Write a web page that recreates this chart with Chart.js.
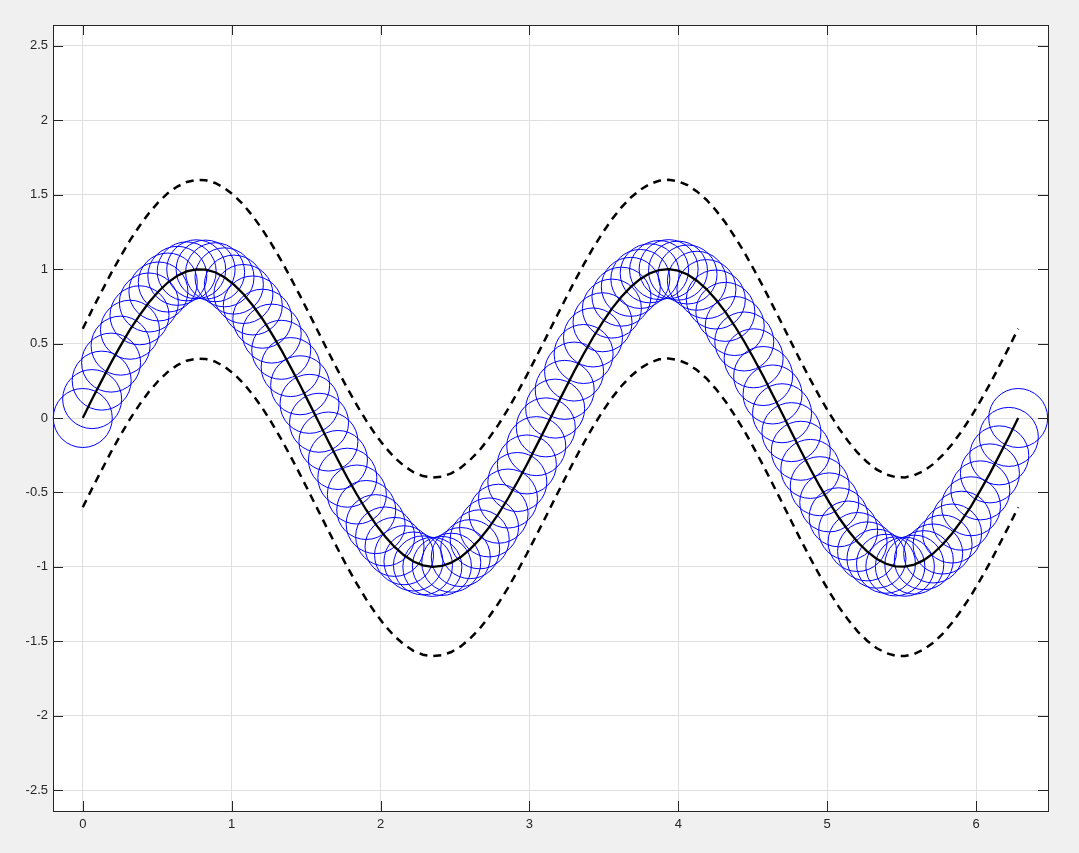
<!DOCTYPE html>
<html>
<head>
<meta charset="utf-8">
<title>sin(2x) with markers</title>
<script src="https://cdn.jsdelivr.net/npm/chart.js@4/dist/chart.umd.min.js"></script>
<style>
    html, body { margin: 0; padding: 0; background: #f0f0f0; }
    #plot { display: block; }
</style>
</head>
<body>
<canvas id="plot" width="1079" height="853"></canvas>
<script>
// x samples (0 .. 2*pi)
const xs = [0, 0.063, 0.127, 0.190, 0.254, 0.317, 0.381, 0.444, 0.508, 0.571, 0.635, 0.698, 0.762, 0.825, 0.889, 0.952, 1.015, 1.079, 1.142, 1.206,
    1.269, 1.333, 1.396, 1.460, 1.523, 1.587, 1.650, 1.714, 1.777, 1.841, 1.904, 1.967, 2.031, 2.094, 2.158, 2.221, 2.285, 2.348, 2.412, 2.475,
    2.539, 2.602, 2.666, 2.729, 2.793, 2.856, 2.919, 2.983, 3.046, 3.110, 3.173, 3.237, 3.300, 3.364, 3.427, 3.491, 3.554, 3.618, 3.681, 3.745,
    3.808, 3.871, 3.935, 3.998, 4.062, 4.125, 4.189, 4.252, 4.316, 4.379, 4.443, 4.506, 4.570, 4.633, 4.697, 4.760, 4.823, 4.887, 4.950, 5.014,
    5.077, 5.141, 5.204, 5.268, 5.331, 5.395, 5.458, 5.522, 5.585, 5.649, 5.712, 5.775, 5.839, 5.902, 5.966, 6.029, 6.093, 6.156, 6.220, 6.283];

// middle curve (solid line + circle markers)
const mid = [0, 0.127, 0.251, 0.372, 0.486, 0.593, 0.690, 0.776, 0.850, 0.910, 0.955, 0.985, 0.999, 0.997, 0.979, 0.945, 0.896, 0.833, 0.756, 0.667,
    0.567, 0.458, 0.342, 0.220, 0.095, -0.032, -0.158, -0.282, -0.401, -0.514, -0.618, -0.713, -0.796, -0.866, -0.922, -0.964, -0.990, -1.000, -0.994, -0.972,
    -0.934, -0.881, -0.815, -0.735, -0.643, -0.541, -0.430, -0.312, -0.189, -0.063, 0.063, 0.189, 0.312, 0.430, 0.541, 0.643, 0.735, 0.815, 0.881, 0.934,
    0.972, 0.994, 1.000, 0.990, 0.964, 0.922, 0.866, 0.796, 0.713, 0.618, 0.514, 0.401, 0.282, 0.158, 0.032, -0.095, -0.220, -0.342, -0.458, -0.567,
    -0.667, -0.756, -0.833, -0.896, -0.945, -0.979, -0.997, -0.999, -0.985, -0.955, -0.910, -0.850, -0.776, -0.690, -0.593, -0.486, -0.372, -0.251, -0.127, 0];

// upper dashed curve
const upper = [0.600, 0.727, 0.851, 0.972, 1.086, 1.193, 1.290, 1.376, 1.450, 1.510, 1.555, 1.585, 1.599, 1.597, 1.579, 1.545, 1.496, 1.433, 1.356, 1.267,
    1.167, 1.058, 0.942, 0.820, 0.695, 0.568, 0.442, 0.318, 0.199, 0.086, -0.018, -0.113, -0.196, -0.266, -0.322, -0.364, -0.390, -0.400, -0.394, -0.372,
    -0.334, -0.281, -0.215, -0.135, -0.043, 0.059, 0.170, 0.288, 0.411, 0.537, 0.663, 0.789, 0.912, 1.030, 1.141, 1.243, 1.335, 1.415, 1.481, 1.534,
    1.572, 1.594, 1.600, 1.590, 1.564, 1.522, 1.466, 1.396, 1.313, 1.218, 1.114, 1.001, 0.882, 0.758, 0.632, 0.505, 0.380, 0.258, 0.142, 0.033,
    -0.067, -0.156, -0.233, -0.296, -0.345, -0.379, -0.397, -0.399, -0.385, -0.355, -0.310, -0.250, -0.176, -0.090, 0.007, 0.114, 0.228, 0.349, 0.473, 0.600];

// lower dashed curve
const lower = [-0.600, -0.473, -0.349, -0.228, -0.114, -0.007, 0.090, 0.176, 0.250, 0.310, 0.355, 0.385, 0.399, 0.397, 0.379, 0.345, 0.296, 0.233, 0.156, 0.067,
    -0.033, -0.142, -0.258, -0.380, -0.505, -0.632, -0.758, -0.882, -1.001, -1.114, -1.218, -1.313, -1.396, -1.466, -1.522, -1.564, -1.590, -1.600, -1.594, -1.572,
    -1.534, -1.481, -1.415, -1.335, -1.243, -1.141, -1.030, -0.912, -0.789, -0.663, -0.537, -0.411, -0.288, -0.170, -0.059, 0.043, 0.135, 0.215, 0.281, 0.334,
    0.372, 0.394, 0.400, 0.390, 0.364, 0.322, 0.266, 0.196, 0.113, 0.018, -0.086, -0.199, -0.318, -0.442, -0.568, -0.695, -0.820, -0.942, -1.058, -1.167,
    -1.267, -1.356, -1.433, -1.496, -1.545, -1.579, -1.597, -1.599, -1.585, -1.555, -1.510, -1.450, -1.376, -1.290, -1.193, -1.086, -0.972, -0.851, -0.727, -0.600];

// axis ticks
const xTicks = [0, 1, 2, 3, 4, 5, 6];
const yTicks = [-2.5, -2, -1.5, -1, -0.5, 0, 0.5, 1, 1.5, 2, 2.5];

const axisColor = '#262626';
const gridColor = '#dfdfdf';

function toPoints(ys) {
    return xs.map((x, i) => ({ x: x, y: ys[i] }));
}

// White plot background, box outline and inward tick marks (MATLAB style)
const boxPlugin = {
    id: 'box',
    beforeDraw(chart) {
        const a = chart.chartArea;
        const ctx = chart.ctx;
        ctx.save();
        ctx.fillStyle = '#ffffff';
        ctx.fillRect(a.left, a.top, a.right - a.left, a.bottom - a.top);
        ctx.restore();
    },
    afterDraw(chart) {
        const a = chart.chartArea;
        const ctx = chart.ctx;
        const xs_ = chart.scales.x;
        const ys_ = chart.scales.y;
        const len = 10;
        ctx.save();
        ctx.strokeStyle = axisColor;
        ctx.lineWidth = 1;
        ctx.beginPath();
        xTicks.forEach(v => {
            const px = Math.round(xs_.getPixelForValue(v)) + 0.5;
            ctx.moveTo(px, a.bottom);
            ctx.lineTo(px, a.bottom - len);
            ctx.moveTo(px, a.top);
            ctx.lineTo(px, a.top + len);
        });
        yTicks.forEach(v => {
            const py = Math.round(ys_.getPixelForValue(v)) + 0.5;
            ctx.moveTo(a.left, py);
            ctx.lineTo(a.left + len, py);
            ctx.moveTo(a.right, py);
            ctx.lineTo(a.right - len, py);
        });
        ctx.stroke();
        ctx.strokeRect(Math.round(a.left) + 0.5, Math.round(a.top) + 0.5,
            Math.round(a.right - a.left), Math.round(a.bottom - a.top));
        ctx.restore();
    }
};

const ctx = document.getElementById('plot').getContext('2d');
new Chart(ctx, {
    type: 'line',
    data: {
        datasets: [
            {
                data: toPoints(mid),
                borderColor: '#000000',
                borderWidth: 2.3,
                pointRadius: 0,
                fill: false,
                order: 0
            },
            {
                data: toPoints(upper),
                borderColor: '#000000',
                borderWidth: 2.5,
                borderDash: [8, 6],
                pointRadius: 0,
                fill: false,
                order: 1
            },
            {
                data: toPoints(lower),
                borderColor: '#000000',
                borderWidth: 2.5,
                borderDash: [8, 6],
                pointRadius: 0,
                fill: false,
                order: 1
            },
            {
                data: toPoints(mid),
                showLine: false,
                pointStyle: 'circle',
                pointRadius: 29.5,
                pointBorderWidth: 1,
                pointBorderColor: '#0000ff',
                pointBackgroundColor: 'rgba(0,0,0,0)',
                borderColor: '#0000ff',
                clip: false,
                order: 2
            }
        ]
    },
    options: {
        responsive: false,
        animation: false,
        devicePixelRatio: 1,
        layout: {
            autoPadding: false,
            padding: { left: 0, top: 25, right: 31, bottom: 0 }
        },
        scales: {
            x: {
                type: 'linear',
                min: -0.2,
                max: 6.4832,
                afterBuildTicks: (scale) => { scale.ticks = xTicks.map(v => ({ value: v })); },
                afterFit: (scale) => {
                    scale.height = 42;
                    scale.paddingLeft = 0;
                    scale.paddingRight = 0;
                },
                border: { display: false },
                grid: { color: gridColor, lineWidth: 1, drawTicks: false },
                ticks: {
                    color: axisColor,
                    padding: 6,
                    maxRotation: 0,
                    font: { family: 'Liberation Sans', size: 13 },
                    callback: (v) => String(v)
                }
            },
            y: {
                type: 'linear',
                min: -2.64,
                max: 2.64,
                afterBuildTicks: (scale) => { scale.ticks = yTicks.map(v => ({ value: v })); },
                afterFit: (scale) => {
                    scale.width = 53;
                    scale.paddingTop = 0;
                    scale.paddingBottom = 0;
                },
                border: { display: false },
                grid: { color: gridColor, lineWidth: 1, drawTicks: false },
                ticks: {
                    color: axisColor,
                    padding: 5,
                    font: { family: 'Liberation Sans', size: 13 },
                    callback: (v) => String(v)
                }
            }
        },
        plugins: {
            legend: { display: false },
            tooltip: { enabled: false }
        }
    },
    plugins: [boxPlugin]
});
</script>
</body>
</html>
